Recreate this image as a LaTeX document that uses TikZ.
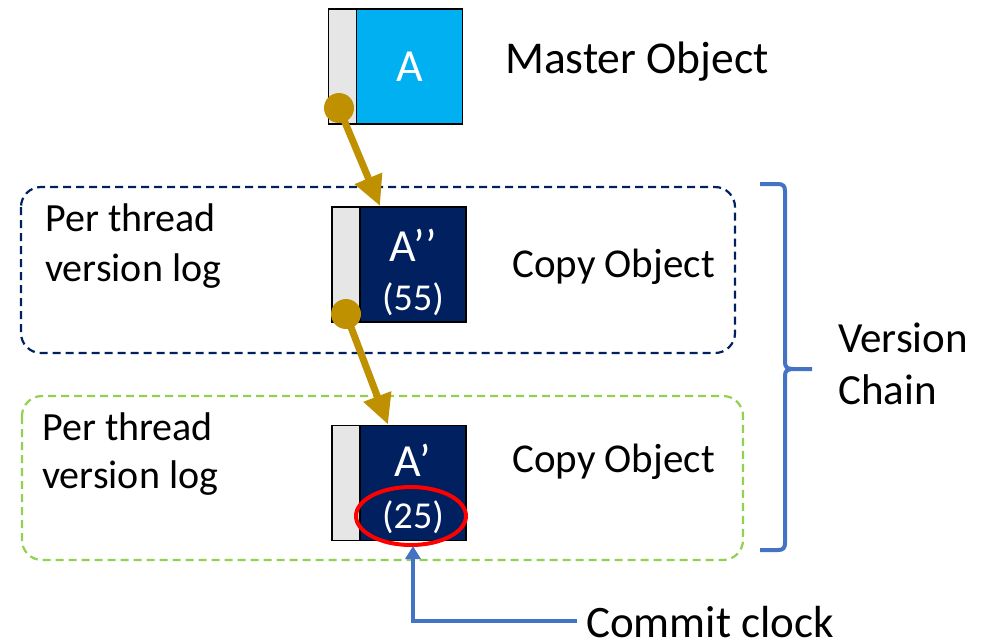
\documentclass[tikz,border=0pt]{standalone}
\usepackage{fontspec}
\setmainfont{Carlito}
\usetikzlibrary{arrows.meta,calc}
\definecolor{skyblue}{HTML}{00B0F0}
\definecolor{navy}{HTML}{002060}
\definecolor{stripgray}{HTML}{E6E6E6}
\definecolor{gold}{HTML}{BF9000}
\definecolor{midblue}{HTML}{4472C4}
\definecolor{limegreen}{HTML}{92D050}
\newcommand{\fs}[2]{\fontsize{#1}{#2}\selectfont}
\begin{document}
\begin{tikzpicture}[x=1pt,y=-1pt,
  cell/.style={draw=black,line width=1.6pt,inner sep=0pt,outer sep=0pt,minimum height=115pt},
  stripcell/.style={cell,fill=stripgray,minimum width=28pt},
  bodycell/.style={cell,text=white,minimum width=106pt},
  logbox/.style={draw,line width=2.2pt,rounded corners=20pt,dash pattern=on 8pt off 5pt},
  lbl/.style={text=black,inner sep=0pt,anchor=west},
  intext/.style={text=white,inner sep=0pt},
  ptr/.style={gold,line width=7pt,-{Triangle[length=30pt,width=28pt]}},
  ptrdot/.style={circle,fill=gold,minimum size=30pt,inner sep=0pt},
  clk/.style={midblue,line width=4pt,-{Triangle[length=13pt,width=15pt]}}
]
\useasboundingbox (0,0) rectangle (996,641);

% per-thread version logs
\draw[logbox,navy] (21,187) rectangle (735,353);
\draw[logbox,limegreen] (22,396) rectangle (743,560);

% master object
\node[stripcell] (mstrip) at (342.5,66.5) {};
\node[bodycell,fill=skyblue,anchor=west,font=\fs{46}{50}] (mbody) at (mstrip.east) {A};
\node[lbl,font=\fs{45.5}{50}] (mlabel) at (505,62) {Master Object};

% newer copy
\node[stripcell] (bstrip) at (346,264.5) {};
\node[bodycell,fill=navy,anchor=west] (bbody) at (bstrip.east) {};
\node[intext,font=\fs{46}{50}] (bname) at (413,245) {A’’};
\node[intext,font=\fs{38}{40}] (bclock) at (413,299) {(55)};
\node[lbl,font=\fs{41}{50}] (blabel) at (512,267) {Copy Object};
\node[lbl,align=left,font=\fs{40}{50}] (blog) at (45,246) {Per thread\\version log};

% older copy
\node[stripcell] (cstrip) at (346,483) {};
\node[bodycell,fill=navy,anchor=west] (cbody) at (cstrip.east) {};
\node[intext,font=\fs{46}{50}] (cname) at (413,460) {A’};
\node[intext,font=\fs{38}{40}] (cclock) at (413,517) {(25)};
\node[lbl,font=\fs{41}{50}] (clabel) at (512,462) {Copy Object};
\node[lbl,align=left,font=\fs{40}{48}] (clog) at (42,454) {Per thread\\version log};

% highlight on the commit timestamp
\draw[red,line width=4pt] (411,516) ellipse [x radius=55pt,y radius=29pt];
\coordinate (ringbottom) at (413,546);

% version pointers
\node[ptrdot] (mdot) at (339,108) {};
\node[ptrdot] (bdot) at (346,314) {};
\draw[ptr] (mdot.center) -- ($(bbody.north west)+(20,-1)$);
\draw[ptr] (bdot.center) -- ($(cbody.north west)+(28,-1)$);

% version chain brace
\draw[midblue,line width=4pt]
  (760,184) -- (778,184) .. controls (783,184) and (785,186) .. (785,191)
  -- (785,362) .. controls (785,367) and (787,369) .. (793,369) -- (812,369)
  (793,369) .. controls (787,369) and (785,371) .. (785,376)
  -- (785,543) .. controls (785,548) and (783,550) .. (778,550) -- (760,550);
\node[lbl,align=left,font=\fs{43}{52}] (chain) at (838,364) {Version\\Chain};

% commit clock
\coordinate (clkstart) at (577,621);
\node[lbl,font=\fs{45}{50}] (clklabel) at (586,622) {Commit clock};
\draw[clk] (clkstart) -- (413,621) -- (ringbottom);
\end{tikzpicture}
\end{document}
